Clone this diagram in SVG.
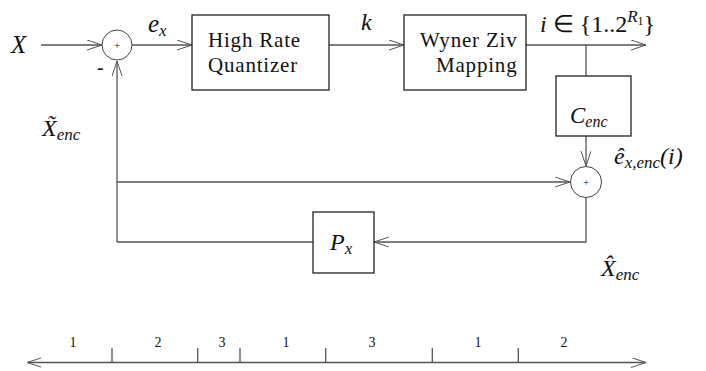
<svg xmlns="http://www.w3.org/2000/svg" width="706" height="371" viewBox="0 0 706 371" font-family="Liberation Serif, Times New Roman, serif">
<style>
.ln { stroke: #555; stroke-width: 1.3; fill: none; }
.bx { stroke: #222; stroke-width: 1.3; fill: #fff; }
.ci { stroke: #444; stroke-width: 1; fill: #fff; }
</style>
<defs>
<marker id="ar" markerUnits="userSpaceOnUse" markerWidth="17" markerHeight="12" refX="15" refY="5" orient="auto">
<path d="M0,0 L15,5 L0,10" fill="none" stroke="#555" stroke-width="1"/>
</marker>
</defs>
<g id="connectors">
<path class="ln" d="M41,45 H102" marker-end="url(#ar)"/>
<path class="ln" d="M132,45 H192" marker-end="url(#ar)"/>
<path class="ln" d="M329,45 H404" marker-end="url(#ar)"/>
<path class="ln" d="M526,45 H646" marker-end="url(#ar)"/>
<path class="ln" d="M586,45 V76"/>
<path class="ln" d="M586,136 V166" marker-end="url(#ar)"/>
<path class="ln" d="M117,242 V61" marker-end="url(#ar)"/>
<path class="ln" d="M117,182 H570" marker-end="url(#ar)"/>
<path class="ln" d="M586,197.5 V242 H374" marker-end="url(#ar)"/>
<path class="ln" d="M313,242 H117"/>
</g>
<g id="sum1">
<circle class="ci" cx="117" cy="45" r="15"/>
<text x="117" y="49" font-size="11" text-anchor="middle" fill="#111">+</text>
</g>
<g id="quantizer">
<rect class="bx" x="192" y="15" width="137" height="75"/>
<text x="208" y="47" font-size="21" letter-spacing="0.8" fill="#111">High Rate</text>
<text x="208" y="72" font-size="21" letter-spacing="0.8" fill="#111">Quantizer</text>
</g>
<g id="wynerziv">
<rect class="bx" x="404" y="15" width="122" height="75"/>
<text x="420" y="47" font-size="21" letter-spacing="0.8" fill="#111">Wyner Ziv</text>
<text x="436" y="72" font-size="21" letter-spacing="0.8" fill="#111">Mapping</text>
</g>
<g id="cenc">
<rect class="bx" x="556" y="76" width="75" height="60"/>
<text x="570" y="123" font-style="italic" font-size="23" fill="#111">C<tspan font-size="16" dy="4">enc</tspan></text>
</g>
<g id="sum2">
<circle class="ci" cx="586" cy="182" r="15.5"/>
<text x="586" y="186" font-size="11" text-anchor="middle" fill="#111">+</text>
</g>
<g id="px">
<rect class="bx" x="313" y="212" width="61" height="61"/>
<text x="330" y="250" font-style="italic" font-size="24" fill="#111">P<tspan font-size="17" dy="4">x</tspan></text>
</g>
<g id="labels" fill="#111">
<text x="11" y="53" font-style="italic" font-size="25">X</text>
<text x="97" y="74" font-size="20">-</text>
<text x="148" y="32" font-style="italic" font-size="25">e<tspan font-size="17" dy="4">x</tspan></text>
<text x="361" y="30" font-style="italic" font-size="24">k</text>
<text x="540" y="32" font-style="italic" font-size="24">i <tspan font-style="normal">∈ {1..2</tspan><tspan font-size="17" dy="-10">R</tspan><tspan font-size="12" font-style="normal" dy="3">1</tspan><tspan font-style="normal" dy="7">}</tspan></text>
<text x="614" y="164" font-style="italic" font-size="24">ê<tspan font-size="17" dy="4">x,enc</tspan><tspan dy="-4">(i)</tspan></text>
<text x="42" y="136" font-style="italic" font-size="24">X̃<tspan font-size="17" dy="4">enc</tspan></text>
<text x="601" y="276" font-style="italic" font-size="24">X̂<tspan font-size="17" dy="4">enc</tspan></text>
</g>
<g id="axis">
<path class="ln" d="M28,362.5 H646" marker-end="url(#ar)"/>
<path d="M41,358 L27,362.5 L41,367" fill="none" stroke="#555" stroke-width="1"/>
<path class="ln" d="M112,348 V362.5 M197.7,348 V362.5 M240,348 V362.5 M325.7,348 V362.5 M432.3,348 V362.5 M518.3,348 V362.5"/>
<g font-size="14" text-anchor="middle" fill="#111">
<text x="73" y="347">1</text>
<text x="158" y="347">2</text>
<text x="222" y="347">3</text>
<text x="286" y="347">1</text>
<text x="372" y="347">3</text>
<text x="478" y="347">1</text>
<text x="564" y="347">2</text>
</g>
</g>
</svg>
